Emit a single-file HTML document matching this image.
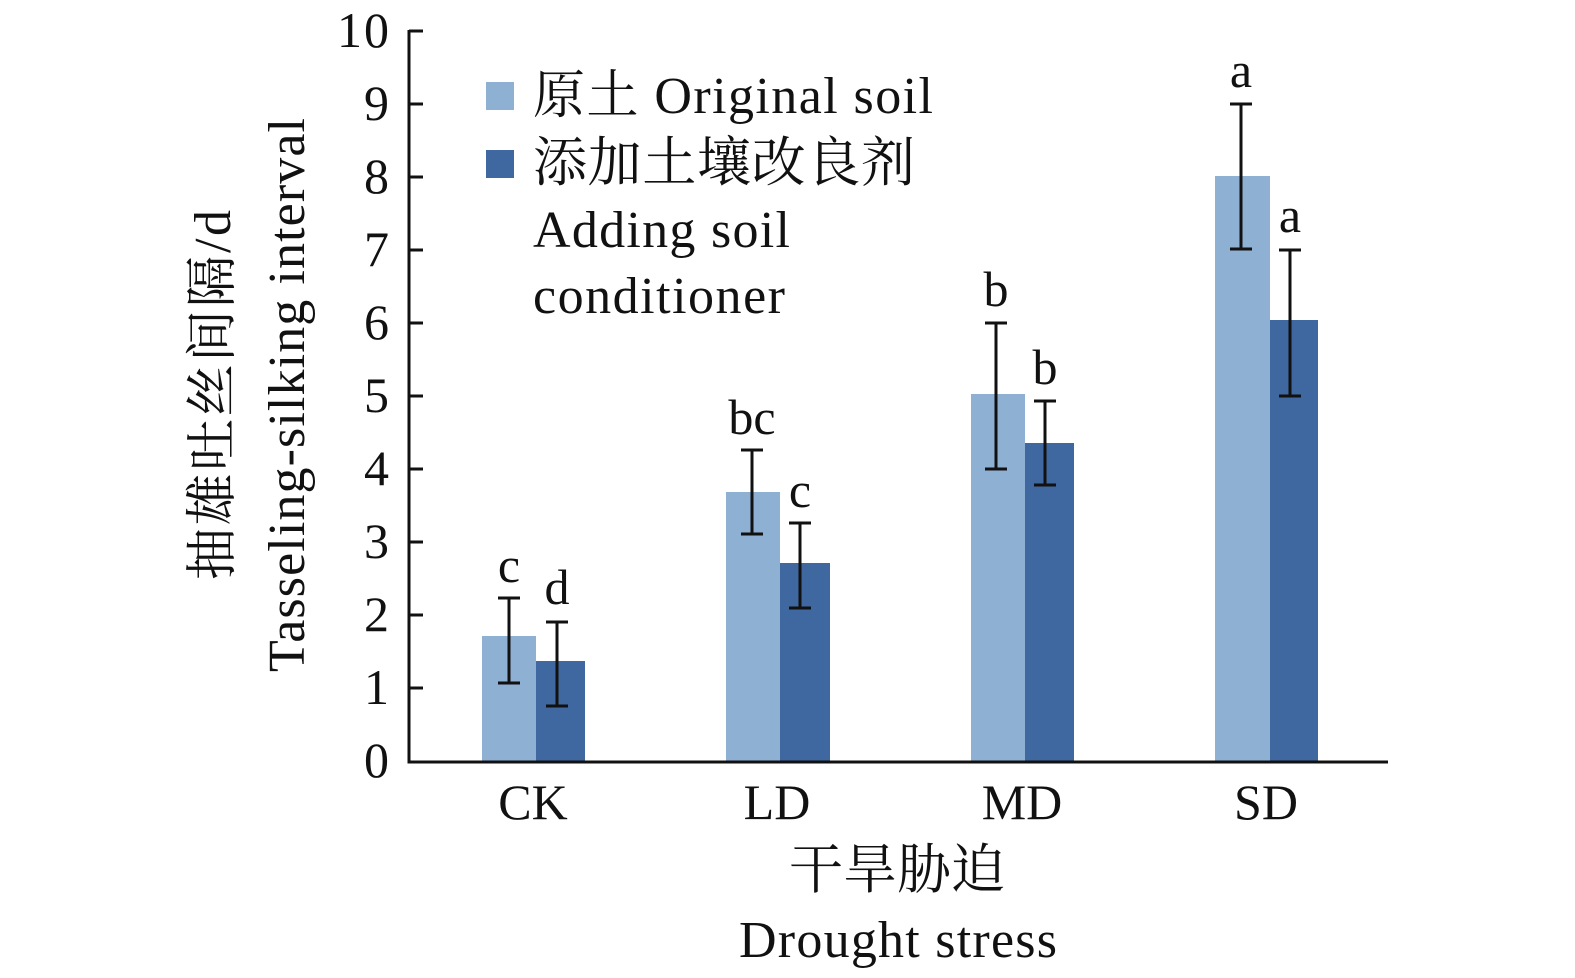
<!DOCTYPE html>
<html><head><meta charset="utf-8"><style>
html,body{margin:0;padding:0;background:#fff;}
svg{display:block;}
text{font-family:"Liberation Serif","Noto Serif CJK SC",serif;fill:#111;}
</style></head><body>
<svg width="1575" height="978" viewBox="0 0 1575 978" xmlns="http://www.w3.org/2000/svg">
<g>
<rect x="482" y="636" width="54" height="125" fill="#8eb0d3"/>
<rect x="536" y="661" width="49" height="100" fill="#3f67a0"/>
<rect x="726" y="492" width="54" height="269" fill="#8eb0d3"/>
<rect x="780" y="563" width="50" height="198" fill="#3f67a0"/>
<rect x="971" y="394" width="54" height="367" fill="#8eb0d3"/>
<rect x="1025" y="443" width="49" height="318" fill="#3f67a0"/>
<rect x="1215" y="176" width="55" height="585" fill="#8eb0d3"/>
<rect x="1270" y="320" width="48" height="441" fill="#3f67a0"/>
</g>
<g stroke="#111" stroke-width="3" fill="none">
<path d="M509 598V683M498 598H520M498 683H520"/>
<path d="M557 622V706M546 622H568M546 706H568"/>
<path d="M752 450V534M741 450H763M741 534H763"/>
<path d="M800 523V608M789 523H811M789 608H811"/>
<path d="M996 323V469M985 323H1007M985 469H1007"/>
<path d="M1045 401V485M1034 401H1056M1034 485H1056"/>
<path d="M1241 104V249M1230 104H1252M1230 249H1252"/>
<path d="M1290 250V396M1279 250H1301M1279 396H1301"/>
</g>
<g stroke="#111" stroke-width="3" fill="none">
<path d="M409 30V762H1388"/>
<path d="M409 31H423M409 104H423M409 177H423M409 250H423M409 323H423M409 396H423M409 469H423M409 542H423M409 615H423M409 688H423"/>
</g>
<g font-size="50" text-anchor="end">
<text x="389" y="47" textLength="52">10</text>
<text x="389" y="120">9</text>
<text x="389" y="193">8</text>
<text x="389" y="266">7</text>
<text x="389" y="339">6</text>
<text x="389" y="412">5</text>
<text x="389" y="485">4</text>
<text x="389" y="558">3</text>
<text x="389" y="631">2</text>
<text x="389" y="704">1</text>
<text x="389" y="777">0</text>
</g>
<g font-size="50" text-anchor="middle">
<text x="509" y="582">c</text>
<text x="557" y="604">d</text>
<text x="752" y="434">bc</text>
<text x="800" y="507">c</text>
<text x="996" y="306">b</text>
<text x="1045" y="384">b</text>
<text x="1241" y="87">a</text>
<text x="1290" y="232">a</text>
</g>
<g font-size="50" text-anchor="middle">
<text x="533" y="819">CK</text>
<text x="777" y="819">LD</text>
<text x="1022" y="819">MD</text>
<text x="1266" y="819">SD</text>
</g>
<g font-size="54">
<text x="789" y="888" textLength="216">干旱胁迫</text>
<text x="739" y="957" font-size="52" textLength="318">Drought stress</text>
</g>
<g font-size="52">
<text transform="translate(230,580) rotate(-90)" textLength="370">抽雄吐丝间隔/d</text>
<text transform="translate(304,672) rotate(-90)" textLength="554">Tasseling-silking interval</text>
</g>
<rect x="486" y="82" width="28" height="28" fill="#8eb0d3"/>
<rect x="486" y="150" width="28" height="28" fill="#3f67a0"/>
<g font-size="52">
<text x="533" y="113" textLength="400">原土 Original soil</text>
<text x="533" y="181" font-size="54" textLength="382">添加土壤改良剂</text>
<text x="533" y="247" textLength="257">Adding soil</text>
<text x="533" y="313" textLength="252">conditioner</text>
</g>
</svg>
</body></html>
